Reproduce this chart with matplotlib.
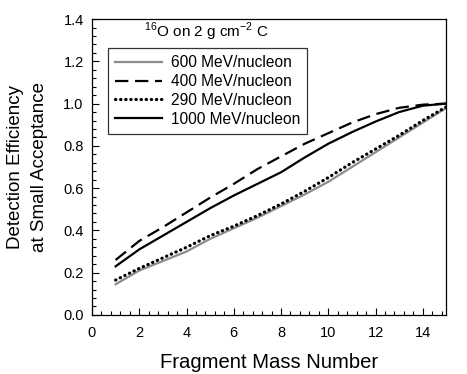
import matplotlib
matplotlib.use("Agg")
import matplotlib.pyplot as plt
from matplotlib.ticker import MultipleLocator

plt.rcParams['font.family'] = ['Liberation Sans', 'DejaVu Sans']
plt.rcParams['mathtext.fontset'] = 'custom'
plt.rcParams['mathtext.rm'] = 'Liberation Sans'

# fragment mass number
mass = [1, 2, 3, 4, 5, 6, 7, 8, 9, 10, 11, 12, 13, 14, 15]

# detection efficiency per beam energy
eff_600 = [0.145, 0.21, 0.255, 0.30, 0.36, 0.41, 0.46, 0.515, 0.57, 0.63,
           0.70, 0.77, 0.84, 0.91, 0.98]
eff_400 = [0.26, 0.35, 0.415, 0.485, 0.555, 0.62, 0.69, 0.75, 0.81, 0.86,
           0.91, 0.95, 0.98, 0.995, 1.0]
eff_290 = [0.165, 0.22, 0.27, 0.32, 0.375, 0.42, 0.47, 0.525, 0.585, 0.65,
           0.72, 0.785, 0.85, 0.92, 0.985]
eff_1000 = [0.23, 0.31, 0.375, 0.44, 0.505, 0.565, 0.62, 0.675, 0.745, 0.81,
            0.865, 0.915, 0.96, 0.99, 1.0]

labels = ["600 MeV/nucleon", "400 MeV/nucleon", "290 MeV/nucleon",
          "1000 MeV/nucleon"]

fig = plt.figure(figsize=(4.67, 3.74), dpi=100)
ax = fig.add_axes([0.197, 0.158, 0.759, 0.791])

ax.plot(mass, eff_600, color="#8c8c8c", lw=1.6, label=labels[0])
ax.plot(mass, eff_400, color="black", lw=1.6, dashes=(6, 3), label=labels[1])
ax.plot(mass, eff_290, color="black", lw=2.3, linestyle=(0, (0.1, 1.5)),
        dash_capstyle="round", label=labels[2])
ax.plot(mass, eff_1000, color="black", lw=1.6, label=labels[3])

ax.set_xlim(0, 15)
ax.set_ylim(0, 1.4)
ax.xaxis.set_major_locator(MultipleLocator(2))
ax.xaxis.set_minor_locator(MultipleLocator(0.4))
ax.yaxis.set_major_locator(MultipleLocator(0.2))
ax.yaxis.set_minor_locator(MultipleLocator(0.04))
ax.yaxis.set_major_formatter(matplotlib.ticker.FormatStrFormatter("%.1f"))
ax.tick_params(which="both", direction="in", top=False, right=False,
               labelsize=10.5)
ax.tick_params(which="major", length=5, width=0.8)
ax.tick_params(axis="x", which="major", pad=8)
ax.tick_params(axis="y", which="major", pad=6)
ax.tick_params(which="minor", length=3, width=0.8)
for s in ax.spines.values():
    s.set_linewidth(0.9)

ax.set_xlabel("Fragment Mass Number", fontsize=14.6, labelpad=9)
ax.set_ylabel("Detection Efficiency\nat Small Acceptance", fontsize=13.5,
              labelpad=11, linespacing=1.5)

ax.text(0.322, 0.956, r"$^{16}$O on 2 g cm$^{-2}$ C", transform=ax.transAxes,
        ha="center", va="center", fontsize=11)
leg = ax.legend(loc="upper left", bbox_to_anchor=(0.045, 0.902),
                fontsize=11.2, frameon=True, fancybox=False,
                handlelength=3.0, labelspacing=0.25, borderpad=0.45,
                borderaxespad=0, handletextpad=0.6)
leg.get_frame().set_edgecolor("black")
leg.get_frame().set_linewidth(0.9)

fig.savefig("out.png", dpi=100)
